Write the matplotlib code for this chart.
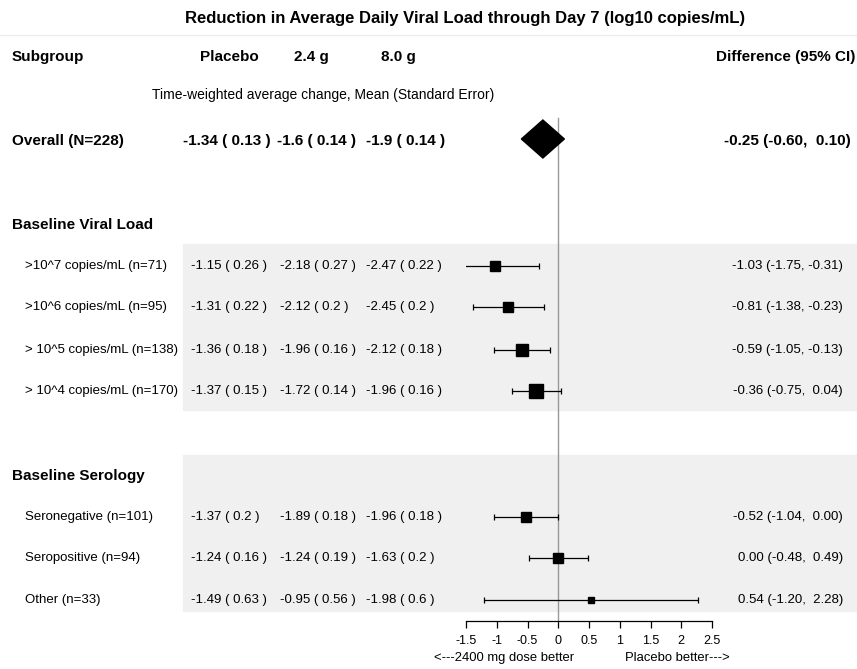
import numpy as np
import matplotlib
matplotlib.use("Agg")
import matplotlib.pyplot as plt
from matplotlib.patches import Rectangle, Polygon

plt.rcParams["font.family"] = ["Liberation Sans", "DejaVu Sans"]

# Overall result
overall_label = "Overall (N=228)"
overall_means = [-1.34, -1.6, -1.9]
overall_ses = [0.13, 0.14, 0.14]
overall_diff = -0.25
overall_lo = -0.60
overall_hi = 0.10

# Baseline viral load subgroups
viral_labels = [">10^7 copies/mL (n=71)", ">10^6 copies/mL (n=95)",
                "> 10^5 copies/mL (n=138)", "> 10^4 copies/mL (n=170)"]
viral_n = [71, 95, 138, 170]
viral_placebo = [-1.15, -1.31, -1.36, -1.37]
viral_placebo_se = [0.26, 0.22, 0.18, 0.15]
viral_low = [-2.18, -2.12, -1.96, -1.72]
viral_low_se = [0.27, 0.2, 0.16, 0.14]
viral_high = [-2.47, -2.45, -2.12, -1.96]
viral_high_se = [0.22, 0.2, 0.18, 0.16]
viral_diff = [-1.03, -0.81, -0.59, -0.36]
viral_lo = [-1.75, -1.38, -1.05, -0.75]
viral_hi = [-0.31, -0.23, -0.13, 0.04]

# Baseline serology subgroups
sero_labels = ["Seronegative (n=101)", "Seropositive (n=94)", "Other (n=33)"]
sero_n = [101, 94, 33]
sero_placebo = [-1.37, -1.24, -1.49]
sero_placebo_se = [0.2, 0.16, 0.63]
sero_low = [-1.89, -1.24, -0.95]
sero_low_se = [0.18, 0.19, 0.56]
sero_high = [-1.96, -1.63, -1.98]
sero_high_se = [0.18, 0.2, 0.6]
sero_diff = [-0.52, 0.00, 0.54]
sero_lo = [-1.04, -0.48, -1.20]
sero_hi = [0.00, 0.49, 2.28]

x_ticks = [-1.5, -1, -0.5, 0, 0.5, 1, 1.5, 2, 2.5]

W, H = 857, 669
fig = plt.figure(figsize=(W / 100, H / 100), dpi=100)

# text layer in pixel units
tx = fig.add_axes([0, 0, 1, 1])
tx.set_xlim(0, W)
tx.set_ylim(H, 0)
tx.axis("off")

# forest layer: x in data units, y in pixel rows
fx = fig.add_axes([466 / W, 0, 246 / W, 1])
fx.set_xlim(-1.5, 2.5)
fx.set_ylim(H, 0)
fx.patch.set_alpha(0)
for s in ["left", "right", "top"]:
    fx.spines[s].set_visible(False)
fx.spines["bottom"].set_position(("data", 621))
fx.spines["bottom"].set_bounds(-1.5, 2.5)
fx.spines["bottom"].set_linewidth(0.9)
fx.set_yticks([])
fx.set_xticks(x_ticks)
fx.set_xticklabels([f"{t:g}" for t in x_ticks])
fx.tick_params(axis="x", direction="out", length=5, width=0.9, pad=5, labelsize=9)


def arm(m, s):
    return f"{m:g} ( {s:g} )"


def diff_text(d, lo, hi):
    return f"{d:.2f} ({lo:5.2f}, {hi:5.2f})"


band = "#f0f0f0"
tx.add_patch(Rectangle((183, 244), W - 183, 166, color=band, zorder=0))
tx.add_patch(Rectangle((183, 455), W - 183, 156, color=band, zorder=0))
tx.plot([0, W], [35, 35], color="#ececec", lw=1)

fs = 9.5
bs = 11
tx.text(465, 18, "Reduction in Average Daily Viral Load through Day 7 (log10 copies/mL)",
        ha="center", va="center", fontsize=12, fontweight="bold")
tx.text(12, 57, "Subgroup", ha="left", va="center", fontsize=bs, fontweight="bold")
for x, h in zip([229, 311, 398], ["Placebo", "2.4 g", "8.0 g"]):
    tx.text(x, 57, h, ha="center", va="center", fontsize=bs, fontweight="bold")
tx.text(855, 57, "Difference (95% CI)", ha="right", va="center", fontsize=bs, fontweight="bold")
tx.text(152, 95, "Time-weighted average change, Mean (Standard Error)",
        ha="left", va="center", fontsize=10)

# overall row
tx.text(12, 141, overall_label, ha="left", va="center", fontsize=bs, fontweight="bold")
for x, m, s in zip([183, 277, 366], overall_means, overall_ses):
    tx.text(x, 141, arm(m, s), ha="left", va="center", fontsize=bs, fontweight="bold")
tx.text(851, 141, diff_text(overall_diff, overall_lo, overall_hi),
        ha="right", va="center", fontsize=bs, fontweight="bold")
fx.add_patch(Polygon([(overall_lo, 139), (overall_diff, 120), (overall_hi, 139),
                      (overall_diff, 158)], closed=True, color="black", zorder=3))


def draw_rows(ys, labels, n, pl, pls, lo_arm, lo_se, hi_arm, hi_se, d, lo, hi):
    for i, y in enumerate(ys):
        tx.text(25, y, labels[i], ha="left", va="center", fontsize=fs)
        cols = [(pl[i], pls[i]), (lo_arm[i], lo_se[i]), (hi_arm[i], hi_se[i])]
        for x, (m, s) in zip([191, 280, 366], cols):
            tx.text(x, y, arm(m, s), ha="left", va="center", fontsize=fs)
        tx.text(843, y, diff_text(d[i], lo[i], hi[i]), ha="right", va="center", fontsize=fs)
        fx.errorbar(d[i], y, xerr=[[d[i] - lo[i]], [hi[i] - d[i]]], fmt="none",
                    ecolor="black", elinewidth=0.9, capsize=2.5, capthick=0.9, zorder=3)
        fx.plot(d[i], y, marker="s", ms=1.07 * np.sqrt(n[i]) * 0.72,
                color="black", zorder=4, clip_on=False)


tx.text(12, 225, "Baseline Viral Load", ha="left", va="center", fontsize=bs, fontweight="bold")
draw_rows([266, 307, 350, 391], viral_labels, viral_n, viral_placebo, viral_placebo_se,
          viral_low, viral_low_se, viral_high, viral_high_se, viral_diff, viral_lo, viral_hi)

tx.text(12, 476, "Baseline Serology", ha="left", va="center", fontsize=bs, fontweight="bold")
draw_rows([517, 558, 600], sero_labels, sero_n, sero_placebo, sero_placebo_se,
          sero_low, sero_low_se, sero_high, sero_high_se, sero_diff, sero_lo, sero_hi)

# line of no difference
fx.plot([0, 0], [118, 621], color="#999999", lw=1, zorder=2)

tx.text(504, 658, "<---2400 mg dose better", ha="center", va="center", fontsize=9.4)
tx.text(677, 658, "Placebo better--->", ha="center", va="center", fontsize=9.4)

fig.savefig("out.png", dpi=100)
